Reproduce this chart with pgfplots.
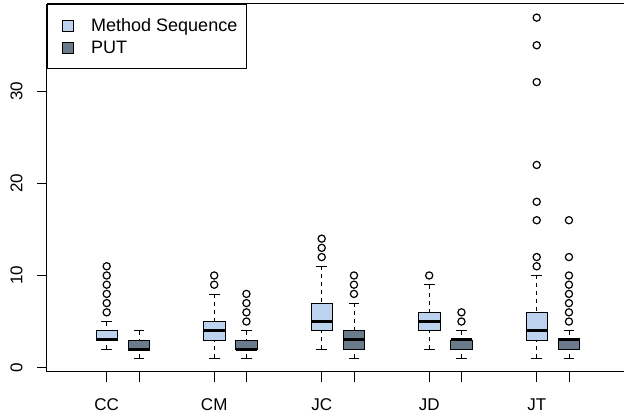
\documentclass[border=0pt]{standalone}
\usepackage{fontspec}
\setmainfont{Liberation Sans}
\usepackage{pgfplots}
\pgfplotsset{compat=1.18}
\usepgfplotslibrary{statistics}
\definecolor{msfill}{HTML}{BCD2EE}
\definecolor{putfill}{HTML}{6C7B8B}
\pgfplotsset{
  msbox/.style={fill=msfill, draw=black, line width=0.8pt, mark=o, mark size=3.6pt,
    mark options={solid, line width=1.2pt, draw=black}, forget plot},
  putbox/.style={fill=putfill, draw=black, line width=0.8pt, mark=o, mark size=3.6pt,
    mark options={solid, line width=1.2pt, draw=black}, forget plot},
}
\begin{document}
\begin{tikzpicture}
\begin{axis}[
  scale only axis, width=577pt, height=368pt,
  xmin=0.4447, xmax=5.812, ymin=-0.48, ymax=39.48,
  axis x line=box, axis y line=left,
  axis line style={-, line width=1pt, black},
  xtick={1,1.3,2,2.3,3,3.3,4,4.3,5,5.3},
  xticklabels={CC,{},CM,{},JC,{},JD,{},JT,{}},
  ytick={0,10,20,30},
  tick align=outside, xtick pos=left, ytick pos=left,
  major tick length=10pt,
  tick style={black, line width=0.8pt},
  /pgf/number format/assume math mode=true,
  tick label style={font=\fontsize{17}{20}\selectfont},
  yticklabel style={rotate=90, anchor=south},
  yticklabel shift=11pt,
  xticklabel shift=13pt,
  boxplot/draw direction=y,
  boxplot/box extend=0.2,
  boxplot/whisker extend=0.1,
  boxplot/every median/.style={line width=3pt, draw=black},
  boxplot/draw/lower whisker/.code={
    \draw[dash pattern=on 4pt off 4pt, fill=none] (boxplot box cs:\pgfplotsboxplotvalue{lower whisker},0.5) -- (boxplot box cs:\pgfplotsboxplotvalue{lower quartile},0.5);
    \draw[fill=none] (boxplot whisker cs:\pgfplotsboxplotvalue{lower whisker},0) -- (boxplot whisker cs:\pgfplotsboxplotvalue{lower whisker},1);
  },
  boxplot/draw/upper whisker/.code={
    \draw[dash pattern=on 4pt off 4pt, fill=none] (boxplot box cs:\pgfplotsboxplotvalue{upper whisker},0.5) -- (boxplot box cs:\pgfplotsboxplotvalue{upper quartile},0.5);
    \draw[fill=none] (boxplot whisker cs:\pgfplotsboxplotvalue{upper whisker},0) -- (boxplot whisker cs:\pgfplotsboxplotvalue{upper whisker},1);
  },
  legend image code/.code={\path (0pt,0pt); \draw[#1] (8pt,-5.5pt) rectangle (19pt,5.5pt);},
  legend style={at={(0,1)}, anchor=north west, draw=black, line width=0.8pt,
    font=\fontsize{18}{21}\selectfont, inner xsep=7pt, inner ysep=12pt, row sep=4pt,
    column sep=15pt},
  legend cell align=left,
]
\addlegendimage{fill=msfill, draw=black, line width=0.8pt}
\addlegendentry{Method Sequence}
\addlegendimage{fill=putfill, draw=black, line width=0.8pt}
\addlegendentry{PUT}

% Method Sequence
\addplot[msbox, boxplot prepared={draw position=1, lower whisker=2, lower quartile=3, median=3, upper quartile=4, upper whisker=5}]
  table[row sep=\\, y index=0] {y\\ 6\\ 7\\ 8\\ 9\\ 10\\ 11\\};
\addplot[msbox, boxplot prepared={draw position=2, lower whisker=1, lower quartile=3, median=4, upper quartile=5, upper whisker=8}]
  table[row sep=\\, y index=0] {y\\ 9\\ 10\\};
\addplot[msbox, boxplot prepared={draw position=3, lower whisker=2, lower quartile=4, median=5, upper quartile=7, upper whisker=11}]
  table[row sep=\\, y index=0] {y\\ 12\\ 13\\ 14\\};
\addplot[msbox, boxplot prepared={draw position=4, lower whisker=2, lower quartile=4, median=5, upper quartile=6, upper whisker=9}]
  table[row sep=\\, y index=0] {y\\ 10\\};
\addplot[msbox, boxplot prepared={draw position=5, lower whisker=1, lower quartile=3, median=4, upper quartile=6, upper whisker=10}]
  table[row sep=\\, y index=0] {y\\ 11\\ 12\\ 16\\ 18\\ 22\\ 31\\ 35\\ 38\\};

% PUT
\addplot[putbox, boxplot prepared={draw position=1.3, lower whisker=1, lower quartile=2, median=2, upper quartile=3, upper whisker=4}]
  coordinates {};
\addplot[putbox, boxplot prepared={draw position=2.3, lower whisker=1, lower quartile=2, median=2, upper quartile=3, upper whisker=4}]
  table[row sep=\\, y index=0] {y\\ 5\\ 6\\ 7\\ 8\\};
\addplot[putbox, boxplot prepared={draw position=3.3, lower whisker=1, lower quartile=2, median=3, upper quartile=4, upper whisker=7}]
  table[row sep=\\, y index=0] {y\\ 8\\ 9\\ 10\\};
\addplot[putbox, boxplot prepared={draw position=4.3, lower whisker=1, lower quartile=2, median=3, upper quartile=3, upper whisker=4}]
  table[row sep=\\, y index=0] {y\\ 5\\ 6\\};
\addplot[putbox, boxplot prepared={draw position=5.3, lower whisker=1, lower quartile=2, median=3, upper quartile=3, upper whisker=4}]
  table[row sep=\\, y index=0] {y\\ 5\\ 6\\ 7\\ 8\\ 9\\ 10\\ 12\\ 16\\};
\end{axis}
\pgfresetboundingbox
\path (current axis.south west) ++(-47pt,-48pt) rectangle ++(624pt,420pt);
\end{tikzpicture}
\end{document}
